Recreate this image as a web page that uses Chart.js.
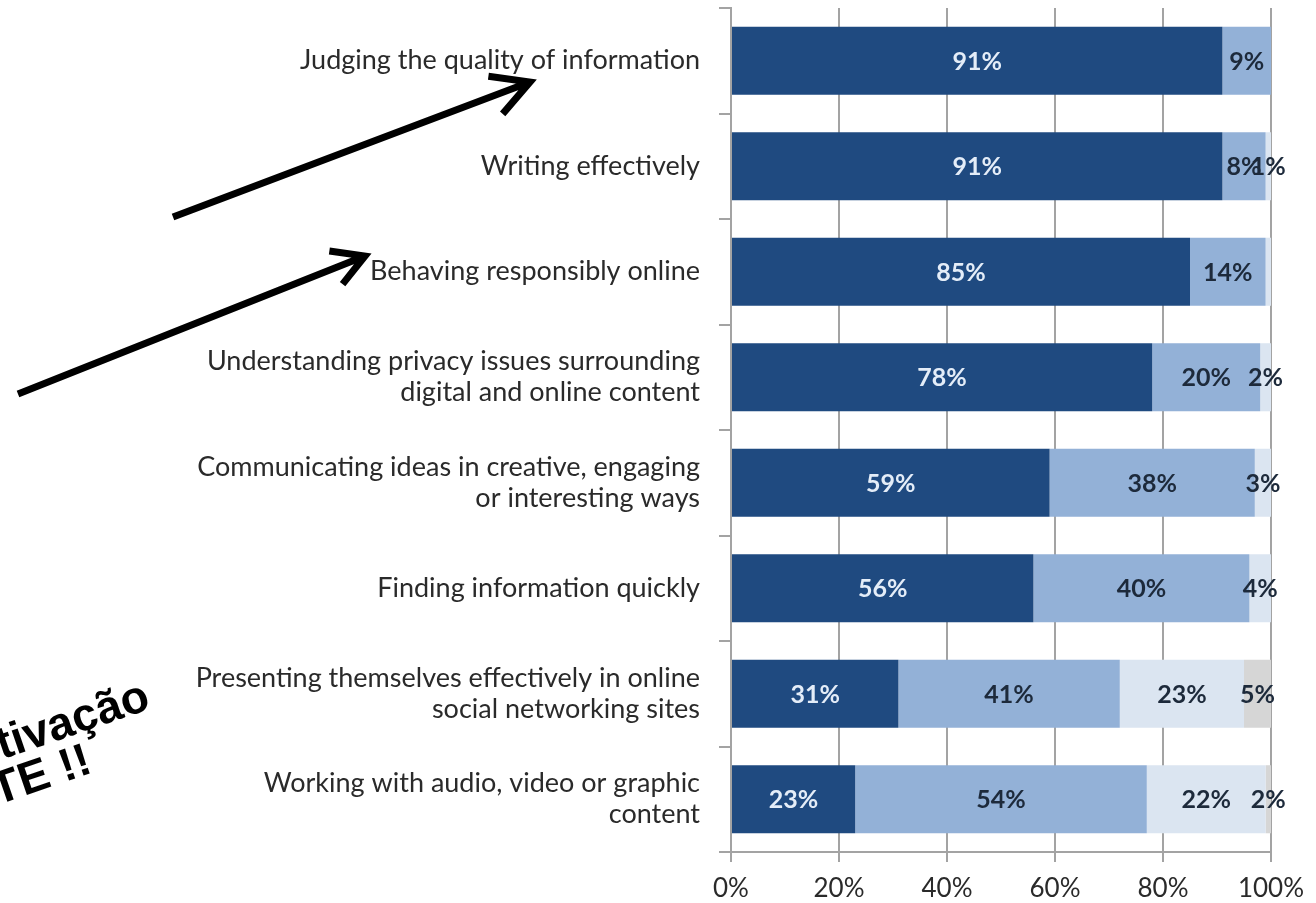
<!DOCTYPE html>
<html>
<head>
<meta charset="utf-8">
<script src="https://cdn.jsdelivr.net/npm/chart.js@4.4.0/dist/chart.umd.min.js"></script>
<style>
  html, body { margin: 0; background: #fff; }
  #wrap { width: 1316px; height: 903px; position: relative; }
</style>
</head>
<body>
<div id="wrap"><canvas id="c"></canvas></div>
<script>
// Stacked horizontal bars, one row per skill; shares add up to 100%.
const categories = [
  "Judging the quality of information",
  "Writing effectively",
  "Behaving responsibly online",
  ["Understanding privacy issues surrounding", "digital and online content"],
  ["Communicating ideas in creative, engaging", "or interesting ways"],
  "Finding information quickly",
  ["Presenting themselves effectively in online", "social networking sites"],
  ["Working with audio, video or graphic", "content"],
];
const darkShare   = [91, 91, 85, 78, 59, 56, 31, 23];
const mediumShare = [9, 8, 14, 20, 38, 40, 41, 54];
const lightShare  = [0, 1, 1, 2, 3, 4, 23, 22];
const greyShare   = [0, 0, 0, 0, 0, 0, 5, 2];
const xTickStep = 20;
// [dataset, row] pairs that carry no label in the picture
const unlabeled = [[2, 2]];

const FONT = "Lato, 'Open Sans', sans-serif";

const segmentLabels = {
  id: "segmentLabels",
  afterDatasetsDraw(chart) {
    const { ctx, chartArea } = chart;
    ctx.save();
    ctx.font = "bold 25px " + FONT;
    ctx.textAlign = "center";
    ctx.textBaseline = "middle";
    chart.data.datasets.forEach((ds, di) => {
      const meta = chart.getDatasetMeta(di);
      meta.data.forEach((bar, i) => {
        const v = ds.data[i];
        if (!v || unlabeled.some(([a, b]) => a === di && b === i)) return;
        const p = bar.getProps(["x", "y", "base"], true);
        const x0 = Math.max(Math.min(p.x, p.base), chartArea.left);
        const x1 = Math.min(Math.max(p.x, p.base), chartArea.right);
        ctx.fillStyle = di === 0 ? "#e4edf8" : "#1d2a3b";
        ctx.fillText(v + "%", (x0 + x1) / 2, p.y + 1);
      });
    });
    ctx.restore();
  },
};

// hand-drawn arrows and the cut-off caption on the left
function arrow(ctx, x0, y0, x1, y1, head, spread) {
  const a = Math.atan2(y1 - y0, x1 - x0);
  ctx.beginPath();
  ctx.moveTo(x0, y0);
  ctx.lineTo(x1, y1);
  ctx.moveTo(x1 - head * Math.cos(a - spread), y1 - head * Math.sin(a - spread));
  ctx.lineTo(x1, y1);
  ctx.lineTo(x1 - head * Math.cos(a + spread), y1 - head * Math.sin(a + spread));
  ctx.stroke();
}

const annotations = {
  id: "annotations",
  afterDraw(chart) {
    const ctx = chart.ctx;
    ctx.save();
    ctx.strokeStyle = "#000";
    ctx.lineWidth = 7;
    ctx.lineJoin = "miter";
    arrow(ctx, 173, 217, 530, 82, 42, 0.5);
    arrow(ctx, 18, 394, 365, 256, 36, 0.52);

    ctx.fillStyle = "#000";
    ctx.font = "bold 46px 'Liberation Sans', Arial, sans-serif";
    ctx.textAlign = "right";
    ctx.textBaseline = "alphabetic";
    ctx.save();
    ctx.translate(152, 708);
    ctx.rotate(-19 * Math.PI / 180);
    ctx.fillText("tivação", 0, 0);
    ctx.restore();
    ctx.save();
    ctx.translate(94, 772);
    ctx.rotate(-19 * Math.PI / 180);
    ctx.fillText("TE !!", 0, 0);
    ctx.restore();
    ctx.restore();
  },
};

const GRID = "#a3a3a3";

new Chart(document.getElementById("c"), {
  type: "bar",
  data: {
    labels: categories,
    datasets: [
      { data: darkShare,   backgroundColor: "#1f4a80" },
      { data: mediumShare, backgroundColor: "#93b1d7" },
      { data: lightShare,  backgroundColor: "#dbe5f1" },
      { data: greyShare,   backgroundColor: "#d6d6d6" },
    ],
  },
  options: {
    indexAxis: "y",
    responsive: true,
    maintainAspectRatio: false,
    devicePixelRatio: 1,
    animation: false,
    layout: { padding: { top: 8, right: 45, left: 0, bottom: 0 } },
    datasets: { bar: { barPercentage: 0.645, categoryPercentage: 1, borderWidth: 0 } },
    plugins: { legend: { display: false }, tooltip: { enabled: false } },
    scales: {
      x: {
        stacked: true,
        min: 0,
        max: 100,
        afterFit: (s) => { s.height = 51; s.paddingLeft = 0; s.paddingRight = 0; },
        grid: { color: GRID, lineWidth: 2, tickLength: 10 },
        border: { color: GRID, width: 2 },
        ticks: {
          stepSize: xTickStep,
          padding: 11,
          color: "#2a2a2a",
          font: { family: FONT, size: 26 },
          callback: (v) => v + "%",
        },
      },
      y: {
        stacked: true,
        afterFit: (s) => { s.width = 731; s.paddingTop = 0; s.paddingBottom = 0; },
        grid: { drawOnChartArea: false, color: GRID, lineWidth: 2, tickLength: 12 },
        border: { color: GRID, width: 2 },
        ticks: {
          padding: 19,
          color: "#2a2a2a",
          font: { family: FONT, size: 27, lineHeight: 1.15 },
        },
      },
    },
  },
  plugins: [segmentLabels, annotations],
});
</script>
</body>
</html>
